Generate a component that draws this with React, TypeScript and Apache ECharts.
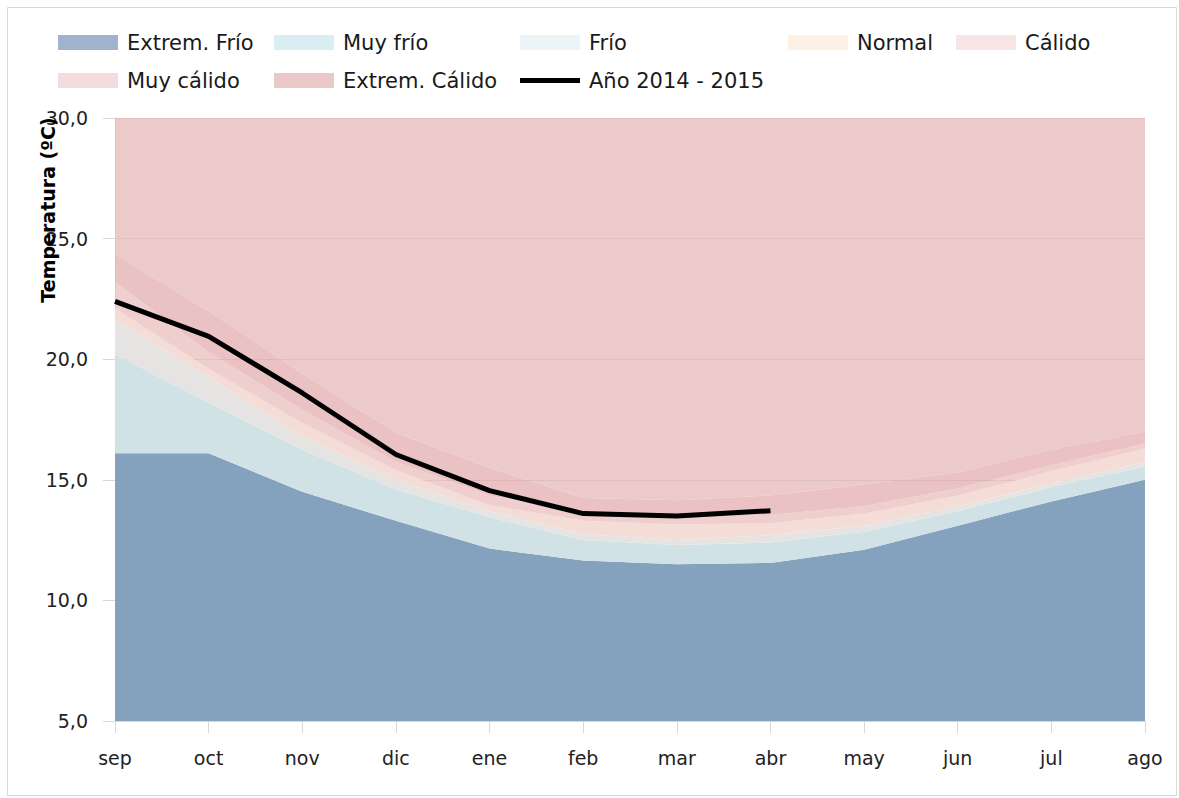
import React, { useEffect, useRef } from "react";
import * as echarts from "echarts";

// Categories (months)
const months = ["sep", "oct", "nov", "dic", "ene", "feb", "mar", "abr", "may", "jun", "jul", "ago"];

// Upper boundary of each band (ºC)
const extremFrioTop = [16.1, 16.1, 14.5, 13.3, 12.15, 11.65, 11.5, 11.55, 12.1, 13.1, 14.1, 15.0];
const muyFrioTop = [20.2, 18.2, 16.25, 14.6, 13.45, 12.5, 12.3, 12.4, 12.85, 13.7, 14.7, 15.55];
const frioTop = [21.65, 19.25, 16.8, 15.0, 13.7, 12.75, 12.5, 12.7, 13.1, 13.9, 14.85, 15.75];
const normalTop = [22.1, 19.6, 17.35, 15.4, 13.95, 13.3, 13.15, 13.2, 13.6, 14.35, 15.35, 16.3];
const calidoTop = [23.2, 20.3, 17.9, 15.75, 14.35, 13.65, 13.4, 13.55, 13.9, 14.65, 15.6, 16.5];
const muyCalidoTop = [24.35, 22.0, 19.4, 16.95, 15.5, 14.25, 14.15, 14.35, 14.8, 15.3, 16.25, 17.0];
const extremCalidoTop = [30, 30, 30, 30, 30, 30, 30, 30, 30, 30, 30, 30];

// Observed year
const year20142015 = [22.4, 20.95, 18.6, 16.05, 14.55, 13.6, 13.5, 13.72, null, null, null, null];

// Y axis
const yMin = 5;
const yMax = 30;
const yStep = 5;

const bandNames = ["Extrem. Frío", "Muy frío", "Frío", "Normal", "Cálido", "Muy cálido", "Extrem. Cálido"];
const bandTops = [extremFrioTop, muyFrioTop, frioTop, normalTop, calidoTop, muyCalidoTop, extremCalidoTop];
const bandFill = [
  "#84a1bd",
  "#d0e2e6",
  "#e6e4e3",
  "#f5ddd7",
  "rgba(235,195,194,0.8)",
  "rgba(230,179,180,0.8)",
  "rgba(233,189,189,0.8)",
];
const legendFill = ["#9fb4cc", "#d9edf3", "#ebf5f8", "#fdf1e6", "#f9e5e5", "#f4dcdc", "#ecc9c9"];
const lineName = "Año 2014 - 2015";

const FONT = "DejaVu Sans";

export default function App() {
  const ref = useRef<HTMLDivElement>(null);

  useEffect(() => {
    if (!ref.current) return;
    const chart = echarts.init(ref.current, null, { renderer: "svg" });

    const bandSeries = bandTops.map((tops, i) => ({
      name: bandNames[i],
      type: "line",
      stack: "bands",
      symbol: "none",
      lineStyle: { width: 0 },
      areaStyle: { color: bandFill[i], opacity: 1 },
      itemStyle: { color: bandFill[i] },
      z: 2,
      data: tops.map((t, k) => (i === 0 ? t : +(t - bandTops[i - 1][k]).toFixed(4))),
    }));

    const legendPos: Array<[string, number, number]> = [
      ["Extrem. Frío", 58, 0],
      ["Muy frío", 274, 0],
      ["Frío", 520, 0],
      ["Normal", 788, 0],
      ["Cálido", 956, 0],
      ["Muy cálido", 58, 1],
      ["Extrem. Cálido", 274, 1],
      [lineName, 520, 1],
    ];

    const legends = legendPos.map(([name, left, row]) => {
      const idx = bandNames.indexOf(name);
      const isLine = name === lineName;
      return {
        left,
        top: row === 0 ? 32 : 70,
        padding: 0,
        itemWidth: 60,
        itemHeight: isLine ? 5 : 15,
        itemGap: 0,
        selectedMode: false,
        textStyle: { fontFamily: FONT, fontSize: 21, color: "#1a1a1a", padding: [0, 0, 0, 4] },
        data: [
          {
            name,
            icon: "rect",
            itemStyle: { color: isLine ? "#000" : legendFill[idx], borderWidth: 0 },
          },
        ],
      };
    });

    chart.setOption({
      animation: false,
      backgroundColor: "#ffffff",
      legend: legends,
      grid: { left: 115, right: 34, top: 118, bottom: 77, containLabel: false },
      xAxis: {
        type: "category",
        data: months,
        boundaryGap: false,
        axisLine: { show: true, lineStyle: { color: "#d9d9d9", width: 1 } },
        axisTick: { show: true, length: 12, lineStyle: { color: "#d9d9d9" } },
        axisLabel: { fontFamily: FONT, fontSize: 19, color: "#222", margin: 27 },
        splitLine: { show: false },
      },
      yAxis: {
        type: "value",
        min: yMin,
        max: yMax,
        interval: yStep,
        axisLine: { show: true, lineStyle: { color: "#d9d9d9", width: 1 } },
        axisTick: { show: true, length: 12, lineStyle: { color: "#d9d9d9" } },
        axisLabel: {
          fontFamily: FONT,
          fontSize: 19,
          color: "#222",
          margin: 27,
          formatter: (v: number) => v.toFixed(1).replace(".", ","),
        },
        splitLine: { show: true, lineStyle: { color: "#c4c4c4", width: 1 } },
      },
      graphic: [
        {
          type: "rect",
          shape: { x: 7.5, y: 7.5, width: 1169, height: 788 },
          style: { fill: "none", stroke: "#d9d9d9", lineWidth: 1 },
          silent: true,
          z: -10,
        },
        {
          type: "text",
          x: 48,
          y: 210,
          rotation: Math.PI / 2,
          style: {
            text: "Temperatura (ºC)",
            fontFamily: FONT,
            fontSize: 19,
            fontWeight: "bold",
            fill: "#000",
            align: "center",
            verticalAlign: "middle",
          },
          z: 100,
        },
      ],
      series: [
        ...bandSeries,
        {
          name: lineName,
          type: "line",
          symbol: "none",
          lineStyle: { color: "#000", width: 5 },
          itemStyle: { color: "#000" },
          z: 10,
          data: year20142015,
        },
      ],
    });

    return () => chart.dispose();
  }, []);

  return (
    <div
      ref={ref}
      style={{ position: "fixed", left: 0, top: 0, width: 1179, height: 798, background: "#fff" }}
    />
  );
}
